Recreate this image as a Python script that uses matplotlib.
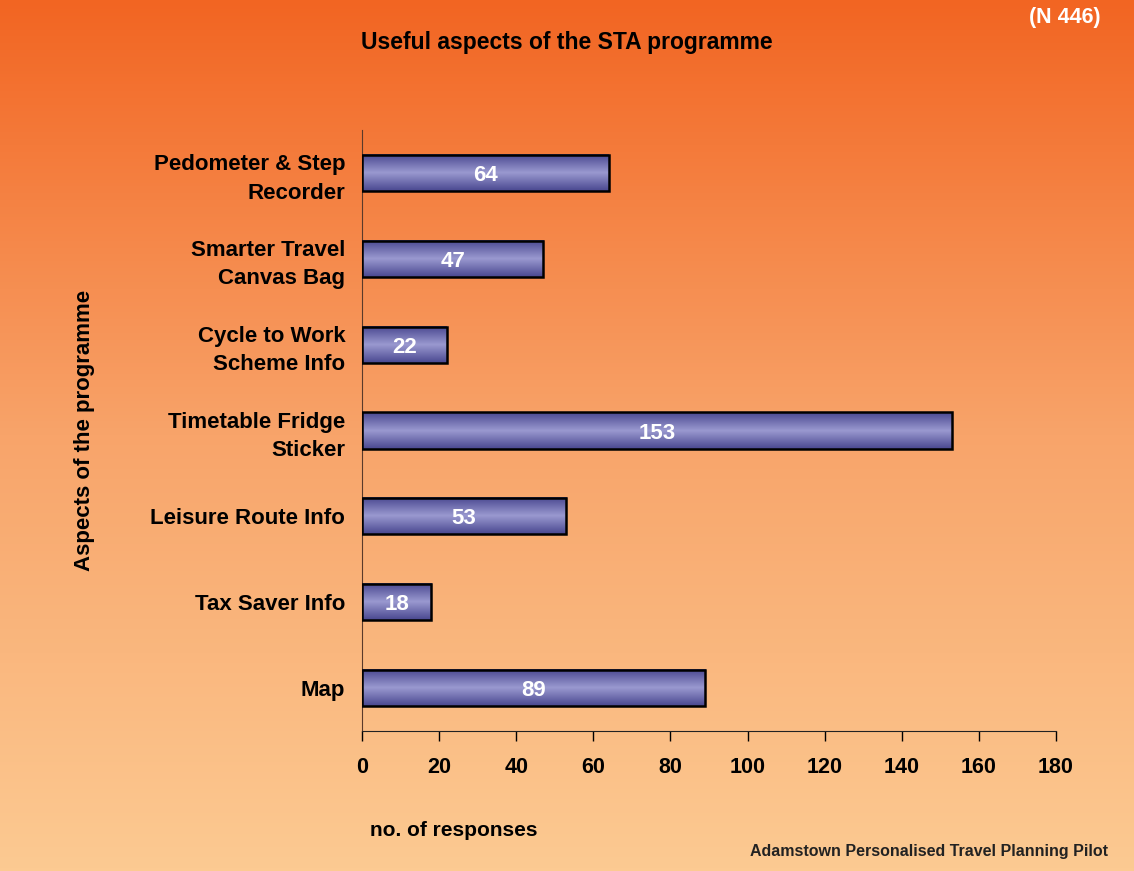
"""Useful aspects of the STA programme."""
import matplotlib
matplotlib.use("Agg")
import matplotlib.pyplot as plt
import numpy as np
from matplotlib.colors import LinearSegmentedColormap

plt.rcParams['font.family'] = ['Liberation Sans', 'DejaVu Sans']
plt.rcParams['font.weight'] = 'bold'

# Data (top to bottom as shown)
aspects = ['Pedometer & Step\nRecorder', 'Smarter Travel\nCanvas Bag',
           'Cycle to Work\nScheme Info', 'Timetable Fridge\nSticker',
           'Leisure Route Info', 'Tax Saver Info', 'Map']
responses = [64, 47, 22, 153, 53, 18, 89]
xticks = [0, 20, 40, 60, 80, 100, 120, 140, 160, 180]

fig = plt.figure(figsize=(11.34, 8.71), dpi=100)

# Background gradient over whole figure
bg = fig.add_axes([0, 0, 1, 1], zorder=-10)
bg_cmap = LinearSegmentedColormap.from_list(
    'bg', ['#FCCA92', '#F8A46A', '#F26522'])
bg.imshow(np.linspace(0, 1, 256).reshape(-1, 1)[::-1], aspect='auto',
          cmap=bg_cmap, extent=[0, 1, 0, 1])
bg.set_axis_off()

ax = fig.add_axes([362 / 1134, 1 - 731 / 871, (1056 - 362) / 1134,
                   (731 - 130) / 871])
ax.patch.set_alpha(0)

bar_cmap = LinearSegmentedColormap.from_list(
    'bar', ['#4A4890', '#9A99D0', '#4A4890'])
grad = np.linspace(0, 1, 64).reshape(-1, 1)
ypos = np.arange(len(aspects))
height = 0.42
for y, v in zip(ypos, responses):
    ax.imshow(grad, aspect='auto', cmap=bar_cmap, zorder=2,
              extent=[0, v, y - height / 2, y + height / 2])
    ax.barh(y, v, height=height, facecolor='none', edgecolor='black',
            linewidth=1.8, zorder=3)
    ax.text(v / 2, y + 0.03, str(v), color='white', ha='center', va='center',
            fontsize=16, fontweight='bold', zorder=4)

ax.set_xlim(0, 180)
ax.set_ylim(len(aspects) - 0.5, -0.5)
ax.set_yticks(ypos, labels=aspects, fontsize=16, fontweight='bold',
              linespacing=1.45)
ax.set_xticks(xticks, labels=[str(t) for t in xticks], fontsize=15.5,
              fontweight='bold')
ax.tick_params(axis='y', length=0, pad=12)
ax.tick_params(axis='x', length=7, width=1, direction='out', pad=12)
for s in ['top', 'right']:
    ax.spines[s].set_visible(False)
ax.spines['left'].set_color('#5a3a2a')
ax.spines['bottom'].set_color('#222222')

ax.set_ylabel('Aspects of the programme', fontsize=16, fontweight='bold',
              labelpad=40)

fig.text(0.5, 1 - 42 / 871, 'Useful aspects of the STA programme',
         ha='center', va='center', fontsize=16.5, fontweight='bold')
fig.text(1065 / 1134, 1 - 18 / 871, '(N 446)', ha='center', va='center',
         fontsize=15.5, fontweight='bold', color='white')
fig.text(370 / 1134, 1 - 830 / 871, 'no. of responses', ha='left',
         va='center', fontsize=15, fontweight='bold')
fig.text(1108 / 1134, 1 - 851 / 871, 'Adamstown Personalised Travel Planning Pilot',
         ha='right', va='center', fontsize=11.5, fontweight='bold',
         color='#222222')

fig.savefig('out.png', dpi=100)
